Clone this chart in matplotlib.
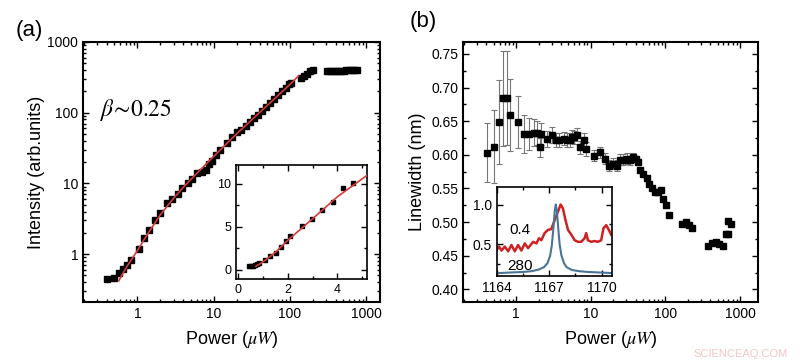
import matplotlib
matplotlib.use("Agg")
import matplotlib.pyplot as plt
from matplotlib.ticker import MultipleLocator, FixedLocator, NullFormatter

plt.rcParams['font.family'] = ['Liberation Sans', 'DejaVu Sans']
plt.rcParams['mathtext.fontset'] = 'stix'

# ---------------- Panel (a): intensity vs power ----------------
power_a = [0.40, 0.49, 0.57, 0.65, 0.73, 0.83, 1.04, 1.23, 1.44, 1.72, 2.0, 2.45, 2.85,
           3.37, 3.85, 4.56, 5.2, 6.05, 7.1, 7.9, 8.7, 9.6, 10.6, 12.3, 15.1, 17.6, 20.4,
           23, 26.2, 29.9, 33.8, 38, 43.2, 48, 54.7, 62, 70.5, 79, 88, 97, 105,
           138, 152, 168, 186, 202,
           310, 340, 370, 400, 430, 470, 510, 550, 600, 650, 700, 750]
intensity_a = [0.45, 0.46, 0.54, 0.61, 0.70, 0.84, 1.2, 1.67, 2.19, 3.0, 3.8, 5.2, 6.1,
               7.1, 8.5, 10.1, 11.5, 13.9, 14.7, 15.5, 18.7, 20.8, 25.4, 29.2, 37, 45, 52.7,
               57.5, 65, 73, 84, 94, 104, 120, 137, 156, 176, 200, 225, 250, 264,
               310, 330, 346, 386, 398,
               385, 385, 388, 388, 390, 390, 392, 395, 398, 400, 402, 400]
fit_power_a = [0.57, 0.65, 0.75, 0.85, 1.0, 1.2, 1.5, 2.0, 3.0, 4.0, 6.0, 10, 20, 40, 70, 100, 130]
fit_intensity_a = [0.42, 0.54, 0.70, 0.86, 1.12, 1.55, 2.25, 3.6, 6.2, 8.8, 13.8, 24, 50, 100, 175, 250, 330]

# inset (a), linear scale
power_ia = [0.42, 0.50, 0.57, 0.65, 0.73, 0.83, 1.09, 1.29, 1.50, 1.70, 1.90, 2.10, 2.55,
            2.95, 3.38, 3.83, 4.23, 4.63]
intensity_ia = [0.40, 0.42, 0.45, 0.52, 0.62, 0.80, 1.16, 1.6, 2.0, 2.6, 3.3, 3.9, 5.1,
                5.9, 7.0, 7.9, 9.5, 10.1]
fit_power_ia = [0.7, 0.9, 1.1, 1.5, 2.0, 3.0, 4.0, 5.2]
fit_intensity_ia = [0.40, 0.75, 1.15, 2.05, 3.45, 5.95, 8.5, 11.0]

# ---------------- Panel (b): linewidth vs power ----------------
power_b = [0.41, 0.50, 0.586, 0.676, 0.758, 0.83, 1.07, 1.28, 1.49, 1.71, 1.93, 2.14, 2.10,
           2.57, 2.99, 3.43, 3.80, 4.39, 4.77, 5.2, 5.57, 6.0, 6.6, 7.2, 8.0, 8.5,
           11.0, 13.3, 15.5, 17.7, 20.0, 22.3, 24.7, 27.3, 30.3, 33.5, 37.1, 40.5,
           43.4, 45.6, 50.6, 56, 61, 65.4, 72.3, 80, 87, 91.7, 101, 110,
           165, 189, 210, 230, 376, 417, 480, 530, 595, 650, 700, 690, 760]
linewidth_b = [0.603, 0.612, 0.649, 0.684, 0.685, 0.659, 0.649, 0.631, 0.631, 0.633, 0.632, 0.631, 0.611,
               0.623, 0.630, 0.622, 0.622, 0.624, 0.622, 0.622, 0.627, 0.626, 0.630, 0.611, 0.622, 0.609,
               0.599, 0.604, 0.594, 0.584, 0.587, 0.584, 0.593, 0.593, 0.594, 0.592, 0.597, 0.594,
               0.590, 0.577, 0.572, 0.565, 0.557, 0.550, 0.545, 0.545, 0.547, 0.535, 0.525, 0.510,
               0.497, 0.500, 0.495, 0.491, 0.464, 0.469, 0.471, 0.467, 0.465, 0.483, 0.483, 0.502, 0.497]
error_b = [0.044, 0.054, 0.063, 0.071, 0.070, 0.054, 0.039, 0.028, 0.024, 0.020, 0.018, 0.016, 0.014,
           0.012, 0.012, 0.010, 0.010, 0.010, 0.010, 0.010, 0.010, 0.010, 0.010, 0.010, 0.010, 0.010,
           0.008, 0.008, 0.008, 0.008, 0.008, 0.008, 0.008, 0.008, 0.008, 0.007, 0.006, 0.004,
           0, 0, 0, 0, 0, 0, 0, 0, 0, 0, 0, 0,
           0, 0, 0, 0, 0, 0, 0, 0, 0, 0, 0, 0, 0]

# inset (b): normalized spectra
wl_blue = [1164.0, 1164.5, 1165.0, 1165.5, 1166.0, 1166.4, 1166.7, 1166.9, 1167.05, 1167.15,
           1167.25, 1167.32, 1167.38, 1167.45, 1167.52, 1167.6, 1167.7, 1167.85, 1168.0,
           1168.3, 1168.7, 1169.2, 1169.7, 1170.2, 1170.6]
spec_blue = [0.135, 0.14, 0.145, 0.15, 0.16, 0.18, 0.21, 0.26, 0.35, 0.48,
             0.72, 0.92, 1.00, 0.90, 0.70, 0.50, 0.36, 0.26, 0.21,
             0.175, 0.16, 0.15, 0.145, 0.14, 0.135]
wl_red = [1164.0, 1164.13, 1164.27, 1164.46, 1164.65, 1164.84, 1165.03, 1165.22, 1165.41, 1165.6,
          1165.79, 1166.08, 1166.27, 1166.42, 1166.55, 1166.74, 1166.93, 1167.12, 1167.31, 1167.5,
          1167.66, 1167.79, 1167.94, 1168.08, 1168.27, 1168.46, 1168.65, 1168.84, 1169.03, 1169.12,
          1169.22, 1169.41, 1169.6, 1169.79, 1169.98, 1170.11, 1170.27, 1170.42, 1170.55]
spec_red = [0.43, 0.47, 0.42, 0.47, 0.41, 0.49, 0.41, 0.49, 0.42, 0.51,
            0.45, 0.53, 0.51, 0.575, 0.55, 0.64, 0.68, 0.69, 0.80, 0.91,
            1.00, 0.95, 0.80, 0.68, 0.62, 0.55, 0.53, 0.53, 0.575, 0.64,
            0.55, 0.53, 0.54, 0.53, 0.55, 0.70, 0.74, 0.68, 0.62]

RED = '#cc2222'
BLUE = '#4a7596'
TICK = 10

def style(ax, lw=1.5, size=TICK):
    for s in ax.spines.values():
        s.set_linewidth(lw)
    ax.tick_params(which='both', direction='in', top=True, right=True, labelsize=size, width=1)
    ax.tick_params(which='major', length=4)
    ax.tick_params(which='minor', length=2)

fig = plt.figure(figsize=(8, 3.64), dpi=100)

# ---- (a)
ax = fig.add_axes([0.104, 0.170, 0.371, 0.715])
ax.set_xscale('log'); ax.set_yscale('log')
ax.plot(power_a, intensity_a, 's', color='black', ms=4.2, zorder=2)
ax.plot(fit_power_a, fit_intensity_a, '-', color='#d83a3a', lw=1.2, zorder=3)
ax.set_xlim(0.195, 1520); ax.set_ylim(0.21, 1000)
ax.set_xticks([1, 10, 100, 1000]); ax.set_xticklabels(['1', '10', '100', '1000'])
ax.set_yticks([1, 10, 100, 1000]); ax.set_yticklabels(['1', '10', '100', '1000'])
ax.xaxis.set_minor_formatter(NullFormatter()); ax.yaxis.set_minor_formatter(NullFormatter())
style(ax)
ax.set_xlabel(r'Power ($\mu W$)', fontsize=13, labelpad=6)
ax.set_ylabel('Intensity (arb.units)', fontsize=13, labelpad=2)
ax.text(0.057, 0.74, r'$\beta\!\sim\!0.25$', transform=ax.transAxes, fontsize=17, va='center', ha='left')
fig.text(0.019, 0.915, '(a)', fontsize=16, va='center', ha='left')

ia = fig.add_axes([0.295, 0.234, 0.164, 0.313])
ia.plot(power_ia, intensity_ia, 's', color='black', ms=3.5, zorder=2)
ia.plot(fit_power_ia, fit_intensity_ia, '-', color='#d83a3a', lw=1.2, zorder=3)
ia.set_xlim(-0.1, 5.2); ia.set_ylim(-1.05, 12.2)
ia.xaxis.set_major_locator(MultipleLocator(2)); ia.xaxis.set_minor_locator(MultipleLocator(1))
ia.yaxis.set_major_locator(MultipleLocator(5)); ia.yaxis.set_minor_locator(MultipleLocator(2.5))
style(ia, lw=1.2, size=9)

# ---- (b)
bx = fig.add_axes([0.579, 0.170, 0.3685, 0.715])
bx.set_xscale('log')
bx.errorbar(power_b, linewidth_b, yerr=error_b, fmt='s', color='black', ms=4.5,
            ecolor='#777777', elinewidth=0.8, capsize=2, capthick=0.8)
bx.set_xlim(0.195, 1740); bx.set_ylim(0.381, 0.768)
bx.set_xticks([1, 10, 100, 1000]); bx.set_xticklabels(['1', '10', '100', '1000'])
bx.xaxis.set_minor_formatter(NullFormatter())
bx.yaxis.set_major_locator(MultipleLocator(0.05)); bx.yaxis.set_minor_locator(MultipleLocator(0.025))
bx.yaxis.set_major_formatter(matplotlib.ticker.FormatStrFormatter('%.2f'))
style(bx)
bx.set_xlabel(r'Power ($\mu W$)', fontsize=13, labelpad=6)
bx.set_ylabel('Linewidth (nm)', fontsize=13, labelpad=4)
fig.text(0.5125, 0.942, '(b)', fontsize=16, va='center', ha='left')

ib = fig.add_axes([0.621, 0.242, 0.144, 0.244])
ib.plot(wl_red, spec_red, '-', color=RED, lw=1.8)
ib.plot(wl_blue, spec_blue, '-', color=BLUE, lw=1.5)
ib.set_xlim(1164.0, 1170.6); ib.set_ylim(0.10, 1.22)
ib.xaxis.set_major_locator(FixedLocator([1164, 1167, 1170]))
ib.xaxis.set_minor_locator(FixedLocator([1165.5, 1168.5]))
ib.yaxis.set_major_locator(FixedLocator([0.5, 1.0]))
ib.yaxis.set_minor_locator(FixedLocator([0.25, 0.75]))
ib.yaxis.set_major_formatter(matplotlib.ticker.FormatStrFormatter('%.1f'))
style(ib, lw=1.2, size=10)
ib.text(1165.3, 0.68, '0.4', fontsize=11, ha='center', va='center')
ib.text(1165.35, 0.23, '280', fontsize=11, ha='center', va='center')

fig.text(0.985, 0.027, 'SCIENCEAQ.COM', fontsize=8, color='#f2c6c6', ha='right', va='center')

fig.savefig('out.png', dpi=100)
